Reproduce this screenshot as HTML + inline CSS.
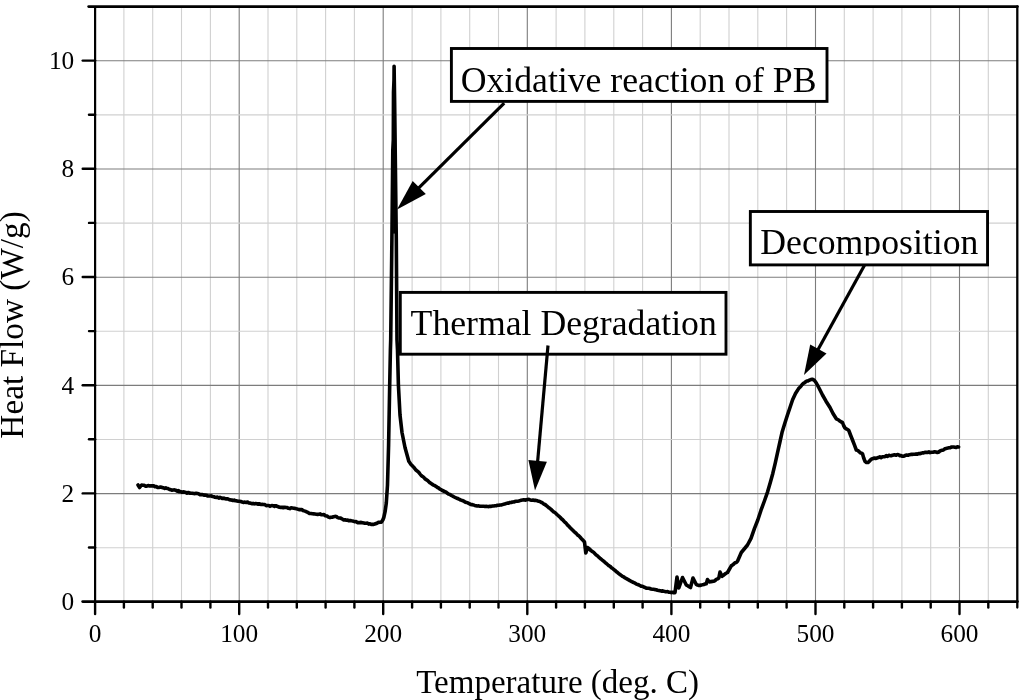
<!DOCTYPE html>
<html><head><meta charset="utf-8"><title>Heat Flow vs Temperature</title>
<style>
html,body{margin:0;padding:0;background:#fff;}
body{width:1024px;height:700px;overflow:hidden;}
svg{display:block;font-family:"Liberation Serif","Times New Roman",serif;}
</style></head><body>
<svg width="1024" height="700" viewBox="0 0 1024 700">
<rect x="0" y="0" width="1024" height="700" fill="#fff"/>
<g id="grid"><line x1="123.9" y1="6.5" x2="123.9" y2="601.6" stroke="#d0d0d0" stroke-width="1.1"/>
<line x1="152.7" y1="6.5" x2="152.7" y2="601.6" stroke="#d0d0d0" stroke-width="1.1"/>
<line x1="181.5" y1="6.5" x2="181.5" y2="601.6" stroke="#d0d0d0" stroke-width="1.1"/>
<line x1="210.4" y1="6.5" x2="210.4" y2="601.6" stroke="#d0d0d0" stroke-width="1.1"/>
<line x1="239.2" y1="6.5" x2="239.2" y2="601.6" stroke="#7c7c7c" stroke-width="1.1"/>
<line x1="268.0" y1="6.5" x2="268.0" y2="601.6" stroke="#d0d0d0" stroke-width="1.1"/>
<line x1="296.8" y1="6.5" x2="296.8" y2="601.6" stroke="#d0d0d0" stroke-width="1.1"/>
<line x1="325.6" y1="6.5" x2="325.6" y2="601.6" stroke="#d0d0d0" stroke-width="1.1"/>
<line x1="354.4" y1="6.5" x2="354.4" y2="601.6" stroke="#d0d0d0" stroke-width="1.1"/>
<line x1="383.2" y1="6.5" x2="383.2" y2="601.6" stroke="#7c7c7c" stroke-width="1.1"/>
<line x1="412.1" y1="6.5" x2="412.1" y2="601.6" stroke="#d0d0d0" stroke-width="1.1"/>
<line x1="440.9" y1="6.5" x2="440.9" y2="601.6" stroke="#d0d0d0" stroke-width="1.1"/>
<line x1="469.7" y1="6.5" x2="469.7" y2="601.6" stroke="#d0d0d0" stroke-width="1.1"/>
<line x1="498.5" y1="6.5" x2="498.5" y2="601.6" stroke="#d0d0d0" stroke-width="1.1"/>
<line x1="527.3" y1="6.5" x2="527.3" y2="601.6" stroke="#7c7c7c" stroke-width="1.1"/>
<line x1="556.1" y1="6.5" x2="556.1" y2="601.6" stroke="#d0d0d0" stroke-width="1.1"/>
<line x1="584.9" y1="6.5" x2="584.9" y2="601.6" stroke="#d0d0d0" stroke-width="1.1"/>
<line x1="613.8" y1="6.5" x2="613.8" y2="601.6" stroke="#d0d0d0" stroke-width="1.1"/>
<line x1="642.6" y1="6.5" x2="642.6" y2="601.6" stroke="#d0d0d0" stroke-width="1.1"/>
<line x1="671.4" y1="6.5" x2="671.4" y2="601.6" stroke="#7c7c7c" stroke-width="1.1"/>
<line x1="700.2" y1="6.5" x2="700.2" y2="601.6" stroke="#d0d0d0" stroke-width="1.1"/>
<line x1="729.0" y1="6.5" x2="729.0" y2="601.6" stroke="#d0d0d0" stroke-width="1.1"/>
<line x1="757.8" y1="6.5" x2="757.8" y2="601.6" stroke="#d0d0d0" stroke-width="1.1"/>
<line x1="786.6" y1="6.5" x2="786.6" y2="601.6" stroke="#d0d0d0" stroke-width="1.1"/>
<line x1="815.5" y1="6.5" x2="815.5" y2="601.6" stroke="#7c7c7c" stroke-width="1.1"/>
<line x1="844.3" y1="6.5" x2="844.3" y2="601.6" stroke="#d0d0d0" stroke-width="1.1"/>
<line x1="873.1" y1="6.5" x2="873.1" y2="601.6" stroke="#d0d0d0" stroke-width="1.1"/>
<line x1="901.9" y1="6.5" x2="901.9" y2="601.6" stroke="#d0d0d0" stroke-width="1.1"/>
<line x1="930.7" y1="6.5" x2="930.7" y2="601.6" stroke="#d0d0d0" stroke-width="1.1"/>
<line x1="959.5" y1="6.5" x2="959.5" y2="601.6" stroke="#7c7c7c" stroke-width="1.1"/>
<line x1="988.3" y1="6.5" x2="988.3" y2="601.6" stroke="#d0d0d0" stroke-width="1.1"/>
<line x1="95.1" y1="547.7" x2="1017.3" y2="547.7" stroke="#d0d0d0" stroke-width="1.1"/>
<line x1="95.1" y1="493.6" x2="1017.3" y2="493.6" stroke="#7c7c7c" stroke-width="1.1"/>
<line x1="95.1" y1="439.5" x2="1017.3" y2="439.5" stroke="#d0d0d0" stroke-width="1.1"/>
<line x1="95.1" y1="385.4" x2="1017.3" y2="385.4" stroke="#7c7c7c" stroke-width="1.1"/>
<line x1="95.1" y1="331.3" x2="1017.3" y2="331.3" stroke="#d0d0d0" stroke-width="1.1"/>
<line x1="95.1" y1="277.2" x2="1017.3" y2="277.2" stroke="#7c7c7c" stroke-width="1.1"/>
<line x1="95.1" y1="223.1" x2="1017.3" y2="223.1" stroke="#d0d0d0" stroke-width="1.1"/>
<line x1="95.1" y1="169.0" x2="1017.3" y2="169.0" stroke="#7c7c7c" stroke-width="1.1"/>
<line x1="95.1" y1="114.9" x2="1017.3" y2="114.9" stroke="#d0d0d0" stroke-width="1.1"/>
<line x1="95.1" y1="60.8" x2="1017.3" y2="60.8" stroke="#7c7c7c" stroke-width="1.1"/></g>
<g id="frame" stroke="#000" stroke-linecap="butt" fill="none">
<line x1="95.1" y1="6.5" x2="95.1" y2="601.6" stroke-width="2.2"/>
<line x1="1017.3" y1="6.5" x2="1017.3" y2="607.6" stroke-width="2.3" stroke-linecap="round"/>
<line x1="88.6" y1="6.6" x2="1017.5" y2="6.6" stroke-width="2.6" stroke-linecap="round"/>
<line x1="82.6" y1="601.6" x2="1017.5" y2="601.6" stroke-width="2.6" stroke-linecap="round"/>
</g>
<g id="ticks" stroke="#000" stroke-width="2.4" stroke-linecap="round"><line x1="123.9" y1="601.6" x2="123.9" y2="607.6"/>
<line x1="152.7" y1="601.6" x2="152.7" y2="607.6"/>
<line x1="181.5" y1="601.6" x2="181.5" y2="607.6"/>
<line x1="210.4" y1="601.6" x2="210.4" y2="607.6"/>
<line x1="239.2" y1="601.6" x2="239.2" y2="614.0"/>
<line x1="268.0" y1="601.6" x2="268.0" y2="607.6"/>
<line x1="296.8" y1="601.6" x2="296.8" y2="607.6"/>
<line x1="325.6" y1="601.6" x2="325.6" y2="607.6"/>
<line x1="354.4" y1="601.6" x2="354.4" y2="607.6"/>
<line x1="383.2" y1="601.6" x2="383.2" y2="614.0"/>
<line x1="412.1" y1="601.6" x2="412.1" y2="607.6"/>
<line x1="440.9" y1="601.6" x2="440.9" y2="607.6"/>
<line x1="469.7" y1="601.6" x2="469.7" y2="607.6"/>
<line x1="498.5" y1="601.6" x2="498.5" y2="607.6"/>
<line x1="527.3" y1="601.6" x2="527.3" y2="614.0"/>
<line x1="556.1" y1="601.6" x2="556.1" y2="607.6"/>
<line x1="584.9" y1="601.6" x2="584.9" y2="607.6"/>
<line x1="613.8" y1="601.6" x2="613.8" y2="607.6"/>
<line x1="642.6" y1="601.6" x2="642.6" y2="607.6"/>
<line x1="671.4" y1="601.6" x2="671.4" y2="614.0"/>
<line x1="700.2" y1="601.6" x2="700.2" y2="607.6"/>
<line x1="729.0" y1="601.6" x2="729.0" y2="607.6"/>
<line x1="757.8" y1="601.6" x2="757.8" y2="607.6"/>
<line x1="786.6" y1="601.6" x2="786.6" y2="607.6"/>
<line x1="815.5" y1="601.6" x2="815.5" y2="614.0"/>
<line x1="844.3" y1="601.6" x2="844.3" y2="607.6"/>
<line x1="873.1" y1="601.6" x2="873.1" y2="607.6"/>
<line x1="901.9" y1="601.6" x2="901.9" y2="607.6"/>
<line x1="930.7" y1="601.6" x2="930.7" y2="607.6"/>
<line x1="959.5" y1="601.6" x2="959.5" y2="614.0"/>
<line x1="988.3" y1="601.6" x2="988.3" y2="607.6"/>
<line x1="95.1" y1="601.6" x2="95.1" y2="614.0"/>
<line x1="89" y1="547.5" x2="95.1" y2="547.5"/>
<line x1="82.7" y1="493.4" x2="95.1" y2="493.4"/>
<line x1="89" y1="439.3" x2="95.1" y2="439.3"/>
<line x1="82.7" y1="385.2" x2="95.1" y2="385.2"/>
<line x1="89" y1="331.1" x2="95.1" y2="331.1"/>
<line x1="82.7" y1="277.0" x2="95.1" y2="277.0"/>
<line x1="89" y1="222.9" x2="95.1" y2="222.9"/>
<line x1="82.7" y1="168.8" x2="95.1" y2="168.8"/>
<line x1="89" y1="114.7" x2="95.1" y2="114.7"/>
<line x1="82.7" y1="60.6" x2="95.1" y2="60.6"/></g>
<g id="ticklabels" font-size="25.3" fill="#000"><text x="95.1" y="641.6" text-anchor="middle">0</text>
<text x="239.2" y="641.6" text-anchor="middle">100</text>
<text x="383.2" y="641.6" text-anchor="middle">200</text>
<text x="527.3" y="641.6" text-anchor="middle">300</text>
<text x="671.4" y="641.6" text-anchor="middle">400</text>
<text x="815.5" y="641.6" text-anchor="middle">500</text>
<text x="959.5" y="641.6" text-anchor="middle">600</text>
<text x="74.2" y="609.9" text-anchor="end">0</text>
<text x="74.2" y="501.7" text-anchor="end">2</text>
<text x="74.2" y="393.5" text-anchor="end">4</text>
<text x="74.2" y="285.2" text-anchor="end">6</text>
<text x="74.2" y="177.1" text-anchor="end">8</text>
<text x="74.2" y="68.9" text-anchor="end">10</text></g>
<text x="557.6" y="692.5" font-size="33" text-anchor="middle" fill="#000">Temperature (deg. C)</text>
<text transform="translate(23,324.9) rotate(-90)" font-size="33.3" text-anchor="middle" fill="#000">Heat Flow (W/g)</text>
<line x1="394.1" y1="70" x2="394.1" y2="233.6" stroke="#000" stroke-width="2"/>
<polyline id="curve" points="138.0,485.0 139.6,487.5 141.6,485.0 142.8,485.2 144.1,485.3 145.3,486.1 146.7,486.2 148.1,485.5 149.6,486.0 151.0,485.8 152.4,485.9 153.7,485.8 155.0,486.7 156.3,486.6 157.6,487.5 158.8,487.5 159.9,487.1 161.1,487.1 162.3,487.6 163.5,487.7 164.7,488.4 165.8,487.9 167.0,488.5 168.2,488.6 169.3,489.4 170.5,489.6 171.8,490.2 173.2,490.0 174.5,489.9 175.8,490.2 177.0,491.1 178.2,490.5 179.3,491.8 180.5,491.6 181.7,492.2 183.0,491.9 184.4,492.1 185.7,492.4 187.0,493.1 188.3,492.5 189.7,493.1 191.0,493.3 192.3,493.2 193.7,493.5 195.0,493.6 196.2,493.3 197.5,493.5 198.8,493.9 200.0,494.6 201.2,494.5 202.5,494.6 203.8,495.1 205.0,495.1 206.2,495.2 207.5,495.9 208.8,496.0 210.0,496.0 211.2,495.9 212.5,496.5 213.8,496.7 215.0,497.3 216.2,497.4 217.5,497.1 218.8,498.1 220.0,497.4 221.2,497.9 222.5,498.5 223.8,498.1 225.0,498.7 226.3,498.9 227.6,498.7 229.0,499.6 230.3,499.9 231.6,500.0 232.9,500.5 234.2,500.1 235.5,500.8 236.9,500.9 238.2,501.2 239.5,501.3 240.8,501.5 242.2,502.1 243.6,502.4 244.9,502.1 246.2,502.5 247.6,502.1 248.9,503.0 250.3,503.1 251.7,503.7 253.0,503.4 254.3,503.9 255.6,503.5 257.0,503.8 258.3,504.3 259.6,503.8 260.9,504.5 262.2,504.4 263.5,504.5 264.9,504.6 266.2,505.6 267.5,505.5 268.8,505.5 270.0,506.3 271.0,505.7 272.0,505.6 273.2,505.7 274.5,506.4 275.8,505.7 277.0,506.3 278.2,506.7 279.5,507.2 280.8,507.4 282.0,507.2 283.3,507.7 284.6,507.2 285.9,507.5 287.2,507.6 288.5,508.3 289.8,508.6 291.1,507.8 292.4,508.0 293.7,508.2 295.0,508.4 296.3,508.8 297.6,509.1 299.0,509.6 300.3,509.6 301.7,509.6 303.0,510.5 304.2,510.9 305.5,511.3 306.8,512.0 308.0,512.4 309.5,513.4 311.0,513.5 312.5,513.8 313.8,513.9 315.0,514.0 316.3,514.2 317.7,514.4 319.0,514.3 320.2,513.9 321.4,514.8 322.6,514.8 323.8,514.5 325.4,515.7 327.0,516.0 328.5,517.1 330.0,517.6 331.0,517.3 332.0,517.2 333.5,516.7 335.0,516.4 336.3,516.5 337.7,517.6 339.0,518.0 340.2,518.0 341.4,518.5 342.6,519.2 343.8,520.0 345.1,519.8 346.4,520.2 347.7,520.1 349.0,520.8 350.2,520.5 351.4,520.8 352.6,521.0 353.8,521.4 355.0,521.8 356.2,521.5 357.5,522.6 358.8,522.5 360.0,522.6 361.2,522.4 362.5,522.7 363.8,523.0 365.0,523.3 366.2,523.3 367.5,523.1 368.8,524.1 370.0,523.8 371.3,524.5 372.5,524.2 373.8,524.4 375.4,523.8 377.0,523.2 378.4,522.4 379.9,522.2 381.3,522.3 382.8,520.0 383.8,517.5 385.2,511.0 386.3,503.0 387.5,485.0 388.6,445.0 389.7,385.0 390.4,350.0 390.7,340.0 391.9,240.0 392.8,150.0 393.3,140.0 393.5,92.0 394.0,80.0 394.1,66.2 394.3,80.0 394.6,100.0 395.1,140.0 395.2,150.0 396.3,240.0 397.0,340.0 397.5,350.0 398.4,385.0 400.0,415.0 402.0,432.5 405.0,447.5 408.8,461.3 411.0,464.5 412.3,465.8 413.7,467.2 415.0,468.8 416.2,470.3 417.5,471.2 418.8,472.4 420.0,474.0 421.2,475.5 422.5,476.4 423.8,477.4 425.0,478.8 426.2,479.7 427.4,480.3 428.6,481.5 429.8,482.7 431.0,483.3 432.3,484.4 433.6,485.1 434.9,485.7 436.2,486.6 437.5,487.5 438.7,488.0 439.9,489.1 441.1,489.6 442.3,490.5 443.5,491.0 444.8,491.6 446.1,492.2 447.4,493.3 448.7,494.1 450.0,494.5 451.4,495.5 452.8,496.2 454.2,497.0 455.6,497.7 457.0,498.3 458.3,498.8 459.7,499.5 461.0,500.1 462.3,500.5 463.7,501.1 465.0,502.0 466.4,502.4 467.8,502.9 469.2,503.7 470.6,504.4 472.0,504.6 473.3,504.9 474.7,505.4 476.0,505.7 477.3,506.0 478.7,505.9 480.0,506.3 481.2,506.2 482.5,506.2 483.8,506.3 485.0,506.5 486.2,506.3 487.5,506.5 488.8,506.6 490.0,506.3 491.2,506.4 492.5,506.0 493.8,506.0 495.0,505.8 496.2,505.8 497.5,505.2 498.8,505.3 500.0,505.0 501.2,505.0 502.4,504.6 503.6,504.3 504.8,503.9 506.0,503.6 507.3,503.1 508.6,503.1 509.9,502.5 511.2,502.5 512.5,502.0 513.8,502.0 515.0,501.5 516.2,501.2 517.5,501.3 518.8,501.0 520.0,500.6 521.2,500.2 522.5,500.0 523.8,499.8 525.0,500.1 526.2,499.9 527.5,499.5 528.9,499.4 530.2,499.9 531.6,500.2 533.0,500.0 534.5,500.4 536.0,500.4 537.5,500.8 538.7,501.3 539.8,501.5 541.0,502.2 542.3,502.7 543.7,504.0 545.0,504.5 546.2,505.5 547.4,506.4 548.6,507.6 549.8,508.3 551.0,509.3 552.3,510.7 553.6,511.8 554.9,512.5 556.2,513.7 557.5,515.0 558.8,516.1 560.1,517.3 561.4,518.8 562.7,519.8 564.0,521.2 565.2,522.4 566.4,523.5 567.6,525.2 568.8,526.2 570.0,527.5 571.2,528.7 572.5,530.0 573.8,531.3 575.0,532.3 576.2,533.4 577.5,534.9 578.8,535.8 580.0,537.0 581.5,538.7 583.0,540.3 584.5,542.0 585.8,553.0 587.5,547.5 588.7,548.2 589.8,549.5 591.0,550.5 592.3,551.4 593.7,552.4 595.0,553.8 596.2,555.0 597.4,555.7 598.6,556.9 599.8,558.1 601.0,559.0 602.3,560.1 603.6,561.1 604.9,562.3 606.2,563.4 607.5,564.5 608.8,565.7 610.1,566.3 611.4,567.7 612.7,568.5 614.0,569.7 615.2,570.5 616.4,571.8 617.6,572.6 618.8,573.6 620.0,574.5 621.2,575.4 622.4,576.3 623.6,576.8 624.8,577.7 626.0,578.4 627.3,579.1 628.6,579.8 629.9,580.7 631.2,581.3 632.5,582.0 633.8,582.6 635.1,583.2 636.4,584.1 637.7,584.5 639.0,585.0 640.2,585.7 641.4,586.3 642.6,586.4 643.8,587.0 645.0,587.5 646.2,588.1 647.4,588.3 648.6,588.2 649.8,588.5 651.0,589.0 652.3,589.2 653.6,589.2 654.9,589.6 656.2,589.7 657.5,590.2 658.8,590.5 660.1,590.8 661.4,591.1 662.7,590.9 664.0,591.3 665.2,591.6 666.4,591.8 667.6,591.6 668.8,592.2 670.0,592.2 671.2,592.6 672.5,592.2 673.8,592.8 675.0,592.6 677.0,577.0 678.8,588.0 682.5,577.5 686.3,585.0 687.7,585.8 689.1,586.7 690.5,587.5 693.0,578.0 696.3,584.5 697.5,585.1 698.8,585.4 700.0,585.5 701.3,585.0 702.5,584.8 703.8,584.5 705.0,584.0 706.3,583.8 707.5,579.5 709.5,582.0 710.9,581.6 712.4,581.4 713.8,581.3 715.0,580.6 716.3,579.4 717.5,578.9 718.8,578.0 720.0,572.0 722.0,576.3 723.4,575.3 724.8,574.1 726.1,573.3 727.5,572.5 731.3,565.8 732.5,565.0 733.8,564.0 735.0,562.8 736.3,562.5 737.5,561.3 741.3,552.5 747.5,545.0 751.0,538.3 754.4,528.6 757.8,520.0 761.0,510.2 764.4,501.0 767.6,491.8 770.3,482.5 772.8,473.4 775.3,462.8 777.6,452.3 779.8,442.5 782.0,432.6 784.6,424.0 787.3,415.5 790.0,407.5 792.6,399.7 795.5,393.5 798.6,388.6 799.7,387.5 800.9,386.3 802.0,384.8 803.2,383.6 804.5,382.7 805.7,381.8 806.9,381.0 808.0,380.9 809.2,380.2 810.8,379.6 812.3,379.3 813.4,379.7 814.5,380.5 816.3,383.0 819.0,388.0 822.5,395.0 826.0,401.2 830.0,407.5 833.0,413.5 836.3,418.8 837.6,419.5 839.0,420.3 840.2,421.3 841.3,422.0 842.5,422.5 843.6,425.5 845.0,428.0 846.8,429.2 847.8,429.6 848.8,430.5 850.5,435.0 852.5,440.0 854.5,445.2 856.3,450.0 857.6,450.4 859.0,451.5 860.2,452.7 861.3,453.1 862.5,453.8 863.7,458.0 865.0,461.3 866.5,462.5 868.0,462.5 869.0,461.7 870.0,460.5 871.2,459.2 872.5,458.8 874.0,458.0 875.5,458.5 877.0,458.0 878.4,457.6 879.8,456.9 881.1,457.6 882.5,456.8 883.8,456.7 885.0,456.7 886.2,455.7 887.5,456.4 888.8,455.3 890.0,455.6 891.2,455.8 892.5,455.2 893.8,454.9 895.0,454.9 896.2,455.2 897.5,454.5 898.8,454.9 900.0,455.8 901.2,455.6 902.5,456.3 903.9,456.1 905.2,455.5 906.6,455.1 908.0,455.3 909.4,454.7 910.8,454.4 912.2,454.4 913.6,454.3 915.0,454.3 916.2,453.9 917.4,454.2 918.6,453.5 919.8,453.6 921.0,453.4 922.3,452.9 923.6,452.9 924.9,452.3 926.2,452.4 927.5,452.5 928.9,451.9 930.2,452.6 931.6,452.3 933.0,452.2 934.5,451.8 935.9,452.1 937.3,452.5 938.8,452.0 940.4,450.7 942.0,450.3 943.5,449.9 945.0,448.8 946.3,448.4 947.7,448.1 949.0,447.7 950.2,447.8 951.3,447.1 952.5,447.0 953.7,447.0 954.9,447.2 956.2,447.5 957.4,446.8 958.6,447.0" fill="none" stroke="#000" stroke-width="3.6" stroke-linejoin="round" stroke-linecap="round"/>
<rect x="451.4" y="48.5" width="375.6" height="52.9" fill="#fff" stroke="#000" stroke-width="2.9"/>
<text x="460.7" y="91.5" font-size="35.7" fill="#000">Oxidative reaction of PB</text>
<rect x="400.3" y="292.4" width="325.7" height="61.8" fill="#fff" stroke="#000" stroke-width="2.9"/>
<text x="410.6" y="335" font-size="35.7" fill="#000">Thermal Degradation</text>
<rect x="750.35" y="211.5" width="237.2" height="53.4" fill="#fff" stroke="#000" stroke-width="2.9"/>
<clipPath id="c3"><rect x="751" y="212" width="236" height="43.6"/></clipPath>
<text x="760.3" y="254.3" font-size="35.7" fill="#000" clip-path="url(#c3)">Decomposition</text>
<line x1="504.2" y1="103.2" x2="417.8" y2="188.9" stroke="#000" stroke-width="3.2"/><polygon points="397.0,209.5 412.7,180.9 425.8,194.1" fill="#000"/>
<line x1="548.0" y1="345.5" x2="537.5" y2="462.9" stroke="#000" stroke-width="3.2"/><polygon points="535.0,490.4 528.4,460.1 546.9,461.7" fill="#000"/>
<line x1="864.5" y1="265.3" x2="817.4" y2="350.8" stroke="#000" stroke-width="3.2"/><polygon points="804.0,375.1 810.2,344.6 826.5,353.6" fill="#000"/>
</svg></body></html>
